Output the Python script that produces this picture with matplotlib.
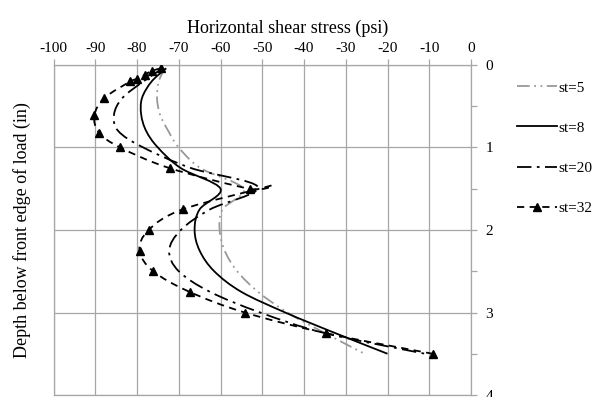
import numpy as np
import matplotlib
matplotlib.use('Agg')
import matplotlib.pyplot as plt
from matplotlib.path import Path
from matplotlib.patches import PathPatch
from matplotlib.lines import Line2D

plt.rcParams['font.family'] = ['Liberation Serif', 'DejaVu Serif']
plt.rcParams['font.size'] = 11
plt.rcParams['axes.unicode_minus'] = False

# depth (in) and horizontal shear stress (psi)
st5_x = [-73.3, -74.8, -75.2, -74.5, -72.5, -70.0, -64.8, -54.5, -59.5, -60.2,
         -59.0, -56.0, -51.0, -44.0, -35.0, -25.5]
st5_y = [0.04, 0.2, 0.4, 0.6, 0.8, 1.0, 1.25, 1.5, 1.75, 2.0,
         2.25, 2.5, 2.75, 3.0, 3.25, 3.5]

st8_x = [-73.0, -76.5, -78.8, -79.0, -77.8, -75.0, -69.5, -60.0, -65.0, -66.2,
         -65.0, -61.5, -55.0, -44.5, -32.5, -20.0]
st8_y = [0.04, 0.2, 0.4, 0.6, 0.8, 1.0, 1.25, 1.5, 1.75, 2.0,
         2.25, 2.5, 2.75, 3.0, 3.25, 3.5]

st20_x = [-73.8, -78.5, -83.5, -85.5, -84.5, -78.5, -67.0, -51.0, -62.5, -69.5,
          -72.3, -70.0, -62.5, -50.5, -35.0, -11.0]
st20_y = [0.04, 0.2, 0.4, 0.6, 0.8, 1.0, 1.25, 1.48, 1.75, 2.0,
          2.25, 2.5, 2.75, 3.0, 3.25, 3.5]

st32_x = [-74.2, -76.4, -78.2, -80.0, -81.6, -87.8, -90.2, -89.1, -84.0, -72.2,
          -53.0, -48.5, -69.1, -77.2, -79.4, -76.1, -67.4, -54.2, -34.8, -9.2]
st32_y = [0.04, 0.07, 0.12, 0.17, 0.2, 0.4, 0.61, 0.82, 1.0, 1.25,
          1.5, 1.47, 1.75, 2.0, 2.25, 2.5, 2.75, 3.0, 3.25, 3.5]
st32_tip = 11  # overshoot of the smoothed line, no marker there

labels = ['st=5', 'st=8', 'st=20', 'st=32']


def smooth_path(xs, ys):
    # Catmull-Rom style smoothing like the spreadsheet "smoothed line"
    pts = np.column_stack([xs, ys])
    p = np.vstack([pts[0], pts, pts[-1]])
    verts = [pts[0]]
    codes = [Path.MOVETO]
    for i in range(1, len(p) - 2):
        c1 = p[i] + (p[i + 1] - p[i - 1]) / 6
        c2 = p[i + 1] - (p[i + 2] - p[i]) / 6
        verts += [c1, c2, p[i + 1]]
        codes += [Path.CURVE4] * 3
    return Path(verts, codes)


grid_c = '#a6a6a6'
styles = [
    dict(color='#999999', lw=1.3, ls=(0, (7, 2.5, 1, 2.5, 1, 2.5))),
    dict(color='black', lw=1.3, ls='-'),
    dict(color='black', lw=1.3, ls=(0, (8, 3, 1.5, 3))),
    dict(color='black', lw=1.3, ls=(0, (4, 3))),
]

fig = plt.figure(figsize=(5.95, 3.97), dpi=100)
ax = fig.add_axes([53.5 / 595, 1 - 395 / 397, (471 - 53.5) / 595, (395 - 65) / 397])

series = [(st5_x, st5_y), (st8_x, st8_y), (st20_x, st20_y), (st32_x, st32_y)]
for (xs, ys), s in zip(series, styles):
    ax.add_patch(PathPatch(smooth_path(xs, ys), fill=False, edgecolor=s['color'],
                           lw=s['lw'], linestyle=s['ls'], zorder=3))

idx = [i for i in range(len(st32_x)) if i != st32_tip]
ax.plot(np.array(st32_x)[idx], np.array(st32_y)[idx], '^', color='black',
        ms=6, zorder=4)

ax.set_xlim(-100, 0)
ax.set_ylim(4, 0)
ax.set_xticks(np.arange(-100, 1, 10))
ax.set_yticks([0, 1, 2, 3, 4])
ax.set_yticks(np.arange(0.5, 4, 1), minor=True)
ax.xaxis.tick_top()
ax.xaxis.set_label_position('top')
ax.yaxis.tick_right()
ax.yaxis.set_label_position('left')
ax.tick_params(axis='both', which='both', direction='out', length=4, width=0.9,
               color=grid_c, labelsize=11)
ax.tick_params(axis='x', pad=3.5)
ax.tick_params(axis='y', pad=6.5)
ax.grid(True, which='major', color=grid_c, lw=0.9)
ax.set_axisbelow(True)
for sp in ax.spines.values():
    sp.set_color(grid_c)
    sp.set_linewidth(0.9)

ax.set_xlabel('Horizontal shear stress (psi)', fontsize=13, labelpad=6)
ax.xaxis.label.set_x((288 - 53.5) / (471 - 53.5))
ax.set_ylabel('Depth below front edge of load (in)', fontsize=13, labelpad=16)

handles = []
for s, lab in zip(styles, labels):
    handles.append(Line2D([], [], color=s['color'], lw=s['lw'], ls=s['ls'],
                          marker='^' if lab == 'st=32' else None, ms=6, label=lab))
fig.legend(handles=handles, loc='upper left', bbox_to_anchor=(517 / 595, 1 - 81 / 397),
           frameon=False, fontsize=11, handlelength=2.6, handletextpad=0.1,
           labelspacing=1.73, borderpad=0, borderaxespad=0)

fig.savefig('out.png', dpi=100)
